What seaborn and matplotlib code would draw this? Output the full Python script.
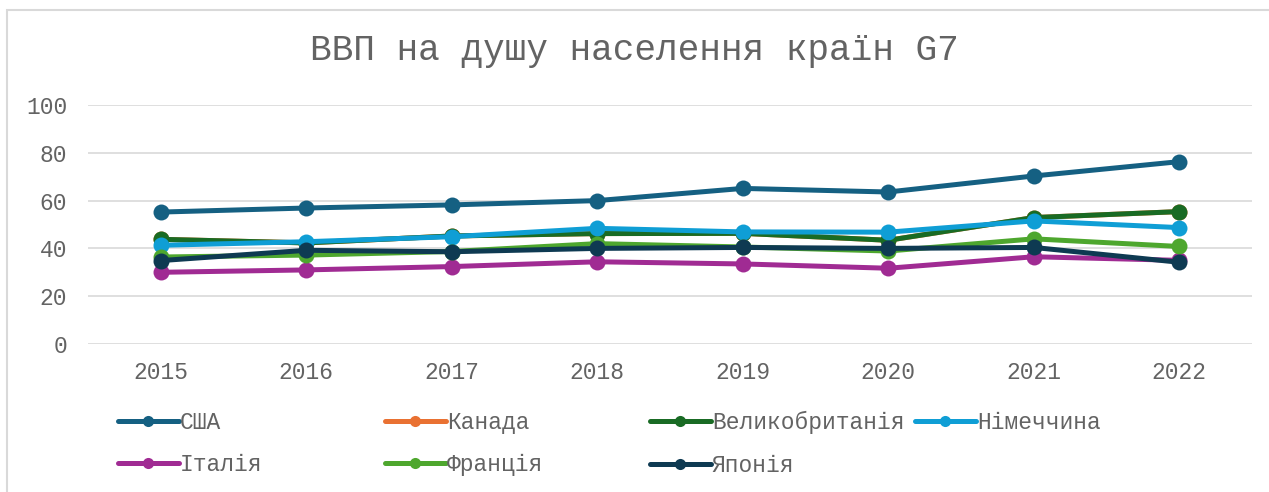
import matplotlib
matplotlib.use("Agg")
import matplotlib.pyplot as plt
import seaborn as sns
import pandas as pd
from matplotlib.lines import Line2D
from matplotlib.patches import Rectangle

years = ["2015", "2016", "2017", "2018", "2019", "2020", "2021", "2022"]
countries = ["США", "Канада", "Великобританія", "Німеччина", "Італія", "Франція", "Японія"]
usa     = [55.2, 56.9, 58.2, 60.0, 65.1, 63.6, 70.3, 76.3]
canada  = [43.8, 42.3, 45.2, 46.2, 46.3, 43.4, 52.9, 55.4]
uk      = [43.8, 42.3, 45.2, 46.2, 46.3, 43.4, 52.9, 55.4]
germany = [41.3, 42.8, 44.9, 48.4, 46.9, 46.8, 51.5, 48.7]
italy   = [30.0, 31.0, 32.4, 34.4, 33.5, 31.7, 36.5, 35.0]
france  = [36.4, 37.2, 38.7, 42.0, 40.6, 38.9, 44.0, 40.8]
japan   = [34.9, 39.2, 38.6, 40.0, 40.4, 40.0, 40.4, 34.2]
series = [usa, canada, uk, germany, italy, france, japan]
colors = ["#156082", "#E97132", "#196B24", "#0F9ED5", "#A02B93", "#4EA72E", "#0E3A52"]
title = "ВВП на душу населення країн G7"

df = pd.DataFrame([
    {"year": y, "value": v, "country": c}
    for c, vals in zip(countries, series)
    for y, v in zip(years, vals)
])

sns.set_theme(style="white")
plt.rcParams["font.family"] = ["Liberation Mono", "DejaVu Sans"]
TXT = "#636363"

W, H = 1269, 492
fig = plt.figure(figsize=(W / 100, H / 100), dpi=100)
ax = fig.add_axes([88 / W, (H - 344) / H, (1252 - 88) / W, (344 - 105) / H])

pal = dict(zip(countries, colors))
sns.lineplot(data=df, x="year", y="value", hue="country", hue_order=countries,
             palette=pal, marker="o", markersize=11.5, markeredgewidth=0,
             linewidth=3.6, legend=False, ax=ax, sort=False, zorder=3)

ax.set_xlim(-0.5, len(years) - 0.5)
ax.set_ylim(0, 100)
ax.set_yticks(range(0, 101, 20))
ax.yaxis.grid(True, color="#D9D9D9", linewidth=1.2)
ax.xaxis.grid(False)
ax.set_axisbelow(True)
for s in ax.spines.values():
    s.set_visible(False)
ax.tick_params(axis="y", length=0, pad=15, labelsize=16.5, labelcolor=TXT)
ax.tick_params(axis="x", length=0, pad=12, labelsize=16.5, labelcolor=TXT)
ax.set_xlabel("")
ax.set_ylabel("")

fig.text(0.5, 1 - 50 / H, title, ha="center", va="center", fontsize=26, color=TXT)

# border
fig.patches.append(Rectangle((7 / W, -0.1), 1.1, (H - 10) / H + 0.1, transform=fig.transFigure,
                             fill=False, edgecolor="#D9D9D9", linewidth=1.5))

handles = {c: Line2D([0], [0], color=col, linewidth=3.6, marker="o", markersize=8,
                     markeredgewidth=0) for c, col in zip(countries, colors)}
cols = [["США", "Італія"], ["Канада", "Франція"], ["Великобританія", "Японія"], ["Німеччина"]]
xs = [118, 385, 650, 915]
for names, x in zip(cols, xs):
    fig.legend(handles=[handles[n] for n in names], labels=names, loc="upper left",
               bbox_to_anchor=(x / W, 1 - 411 / H), frameon=False, fontsize=16.5,
               handlelength=2.65, handletextpad=0.05, borderpad=0, borderaxespad=0,
               labelspacing=0.85, labelcolor=TXT)

fig.savefig("out.png", dpi=100)
